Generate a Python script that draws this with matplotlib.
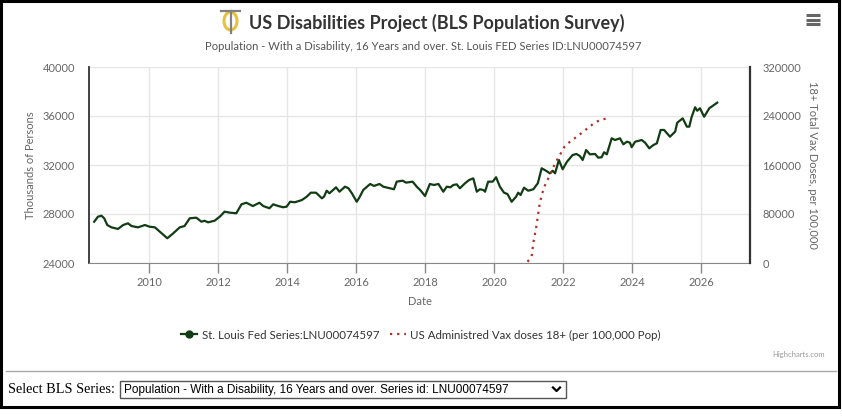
import matplotlib
matplotlib.use("Agg")
import matplotlib.pyplot as plt
from matplotlib.lines import Line2D
from matplotlib.patches import Rectangle, Ellipse

# disability population, thousands of persons (dates in decimal years)
dis_dates = [2008.41, 2008.52, 2008.62, 2008.70, 2008.79, 2008.91, 2009.10, 2009.25, 2009.39, 2009.49,
             2009.68, 2009.88, 2010.02, 2010.17, 2010.31, 2010.53, 2010.70, 2010.89, 2011.03, 2011.18,
             2011.37, 2011.52, 2011.61, 2011.71, 2011.90, 2012.05, 2012.19, 2012.34, 2012.53, 2012.68,
             2012.82, 2013.01, 2013.20, 2013.31, 2013.49, 2013.60, 2013.75, 2013.89, 2013.99, 2014.09,
             2014.23, 2014.43, 2014.57, 2014.69, 2014.84, 2015.01, 2015.07, 2015.15, 2015.23, 2015.42,
             2015.52, 2015.68, 2015.78, 2015.88, 2016.02, 2016.10, 2016.21, 2016.41, 2016.52, 2016.68,
             2016.79, 2016.99, 2017.10, 2017.18, 2017.35, 2017.45, 2017.64, 2017.76, 2017.86, 2018.00,
             2018.14, 2018.26, 2018.39, 2018.53, 2018.63, 2018.74, 2018.82, 2018.92, 2019.01, 2019.16,
             2019.28, 2019.40, 2019.50, 2019.59, 2019.69, 2019.74, 2019.83, 2019.96, 2020.06, 2020.17,
             2020.29, 2020.39, 2020.51, 2020.64, 2020.70, 2020.77, 2020.87, 2020.99, 2021.14, 2021.27,
             2021.38, 2021.51, 2021.62, 2021.70, 2021.77, 2021.88, 2021.99, 2022.11, 2022.28, 2022.39,
             2022.49, 2022.57, 2022.67, 2022.78, 2022.93, 2023.02, 2023.12, 2023.19, 2023.27, 2023.41,
             2023.51, 2023.65, 2023.75, 2023.85, 2023.94, 2023.99, 2024.09, 2024.28, 2024.38, 2024.50,
             2024.62, 2024.72, 2024.83, 2024.93, 2025.10, 2025.25, 2025.31, 2025.47, 2025.59, 2025.66,
             2025.73, 2025.83, 2025.89, 2025.97, 2026.09, 2026.24, 2026.47]
dis_values = [27370, 27780, 27860, 27650, 27100, 26910, 26780, 27100, 27240, 27020,
              26910, 27100, 26960, 26910, 26560, 26020, 26420, 26910, 27020, 27650,
              27700, 27370, 27450, 27320, 27450, 27780, 28190, 28110, 28060, 28790,
              28920, 28650, 28920, 28650, 28470, 28790, 28650, 28550, 28600, 29000,
              28960, 29140, 29410, 29740, 29740, 29280, 29410, 29900, 29690, 30180,
              29820, 30230, 30100, 29690, 29000, 29360, 29960, 30450, 30290, 30450,
              30230, 30100, 30020, 30640, 30720, 30560, 30640, 30230, 29960, 29470,
              30450, 30370, 30450, 29820, 30230, 30180, 30370, 30420, 30100, 30510,
              30780, 30910, 29820, 30020, 29960, 29820, 30640, 30640, 31000, 30230,
              29740, 29630, 29000, 29410, 29740, 29550, 30150, 29900, 30020, 30510,
              31730, 31530, 31320, 31530, 31320, 32410, 31650, 32250, 32820, 32900,
              32730, 32410, 33220, 32870, 32900, 32600, 32630, 33040, 32870, 34180,
              34040, 34180, 33690, 33900, 33820, 33450, 33900, 34040, 33820, 33360,
              33630, 33770, 34860, 34860, 34310, 34720, 35450, 35810, 35130, 35130,
              35940, 36710, 36430, 36630, 35940, 36630, 37090]

# administered vaccine doses 18+, per 100,000 population
vax_dates = [2020.97, 2021.09, 2021.14, 2021.21, 2021.27, 2021.31, 2021.38, 2021.48, 2021.62, 2021.77,
             2021.91, 2022.03, 2022.20, 2022.40, 2022.59, 2022.76, 2022.93, 2023.07, 2023.24]
vax_values = [2100, 10290, 33140, 53880, 75590, 91920, 111020, 127350, 143670, 162780,
              176330, 188900, 198040, 206200, 214370, 222530, 229060, 233470, 235590]

year_ticks = [2010, 2012, 2014, 2016, 2018, 2020, 2022, 2024, 2026]
left_ticks = [24000, 28000, 32000, 36000, 40000]
right_ticks = [0, 80000, 160000, 240000, 320000]

W, H = 842, 418
FONT = "Lato"
GRAY = "#666666"
GREEN = "#123d14"
RED = "#b03028"


def fx(x):
    return x / W


def fy(y):
    return 1 - y / H


fig = plt.figure(figsize=(W / 100, H / 100), dpi=100)
ax = fig.add_axes([fx(89), fy(263), fx(750) - fx(89), fy(67) - fy(263)])
ax2 = ax.twinx()

ax.plot(dis_dates, dis_values, color=GREEN, lw=1.6, solid_joinstyle="round", zorder=3)
ax2.plot(vax_dates, vax_values, color=RED, lw=1.6, linestyle=(0, (1, 2.2)), zorder=3)

ax.set_xlim(2008.26, 2027.42)
ax.set_ylim(24000, 40000)
ax2.set_ylim(0, 320000)
ax.set_xticks(year_ticks)
ax.set_yticks(left_ticks)
ax2.set_yticks(right_ticks)

ax.grid(True, color="#e6e6e6", lw=1)
ax.set_axisbelow(True)

for a in (ax, ax2):
    a.spines["top"].set_visible(False)
ax.spines["left"].set_color("#333333")
ax.spines["left"].set_linewidth(1.3)
ax2.spines["left"].set_visible(False)
ax2.spines["right"].set_color("#333333")
ax2.spines["right"].set_linewidth(1.6)
ax.spines["bottom"].set_color("#888888")
ax2.spines["bottom"].set_visible(False)
ax.spines["right"].set_visible(False)

ax.tick_params(axis="x", length=7, width=1, color="#888888", pad=3, labelsize=8, labelcolor=GRAY)
ax.tick_params(axis="y", length=0, pad=10, labelsize=8, labelcolor=GRAY)
ax2.tick_params(axis="y", length=0, pad=9, labelsize=8, labelcolor=GRAY)
for lab in ax.get_xticklabels() + ax.get_yticklabels() + ax2.get_yticklabels():
    lab.set_family(FONT)

ax.set_xlabel("Date", fontsize=8, color=GRAY, family=FONT, labelpad=6)
ax.set_ylabel("Thousands of Persons", fontsize=8, color=GRAY, family=FONT, labelpad=5)
ax2.set_ylabel("18+ Total Vax Doses, per 100,000", fontsize=8, color=GRAY, family=FONT,
               rotation=270, labelpad=12)

# title + subtitle
fig.text(fx(249), fy(23), "US Disabilities Project (BLS Population Survey)", fontsize=13,
         fontweight="bold", color="#333333", family=FONT, ha="left", va="center")
fig.text(fx(423), fy(46), "Population - With a Disability, 16 Years and over. St. Louis FED Series ID:LNU00074597",
         fontsize=8.1, color="#555555", family=FONT, ha="center", va="center")

# logo
fig.add_artist(Ellipse((fx(230.5), fy(21)), 13 / W, 18 / H, transform=fig.transFigure,
                       facecolor="none", edgecolor="#e8c040", lw=2.2))
fig.add_artist(Line2D([fx(221), fx(240)], [fy(11), fy(11)], transform=fig.transFigure, color="#808080", lw=1.6))
fig.add_artist(Line2D([fx(230.5), fx(230.5)], [fy(11), fy(33)], transform=fig.transFigure, color="#808080", lw=1.6))

# menu icon
for yy in (15, 19.5, 24):
    fig.add_artist(Line2D([fx(806), fx(820)], [fy(yy), fy(yy)], transform=fig.transFigure,
                          color="#666666", lw=2.2, solid_capstyle="butt"))

# legend
handles = [Line2D([0], [0], color=GREEN, lw=1.6, marker="o", markersize=5),
           Line2D([0], [0], color=RED, lw=1.6, linestyle=(0, (1, 2.2)))]
labels = ["St. Louis Fed Series:LNU00074597", "US Administred Vax doses 18+ (per 100,000 Pop)"]
fig.legend(handles, labels, loc="center", bbox_to_anchor=(fx(421), fy(335)), ncol=2, frameon=False,
           prop={"family": FONT, "size": 8.3}, labelcolor="#333333", handlelength=1.4,
           handletextpad=0.4, columnspacing=0.9)

fig.text(fx(825), fy(355), "Highcharts.com", fontsize=5.5, color="#999999", family=FONT,
         ha="right", va="center")

# page chrome under the chart
fig.add_artist(Line2D([fx(6), fx(836)], [fy(371), fy(371)], transform=fig.transFigure, color="#aaaaaa", lw=1))
fig.text(fx(8), fy(389.5), "Select BLS Series:", fontsize=10.3, color="black", family="Liberation Serif",
         ha="left", va="center")
fig.add_artist(Rectangle((fx(120), fy(398)), (566 - 120) / W, 17 / H, transform=fig.transFigure,
                         facecolor="white", edgecolor="#555555", lw=1))
fig.text(fx(124), fy(389.5), "Population - With a Disability, 16 Years and over. Series id: LNU00074597",
         fontsize=8.5, color="black", family="Liberation Sans", ha="left", va="center")
fig.add_artist(Line2D([fx(553), fx(556.5), fx(560)], [fy(387.5), fy(391), fy(387.5)],
                      transform=fig.transFigure, color="black", lw=1.6))

# outer frame
fig.add_artist(Rectangle((fx(1), fy(407)), 838 / W, 406 / H, transform=fig.transFigure,
                         facecolor="none", edgecolor="black", lw=2.2))

fig.savefig("out.png", dpi=100)
